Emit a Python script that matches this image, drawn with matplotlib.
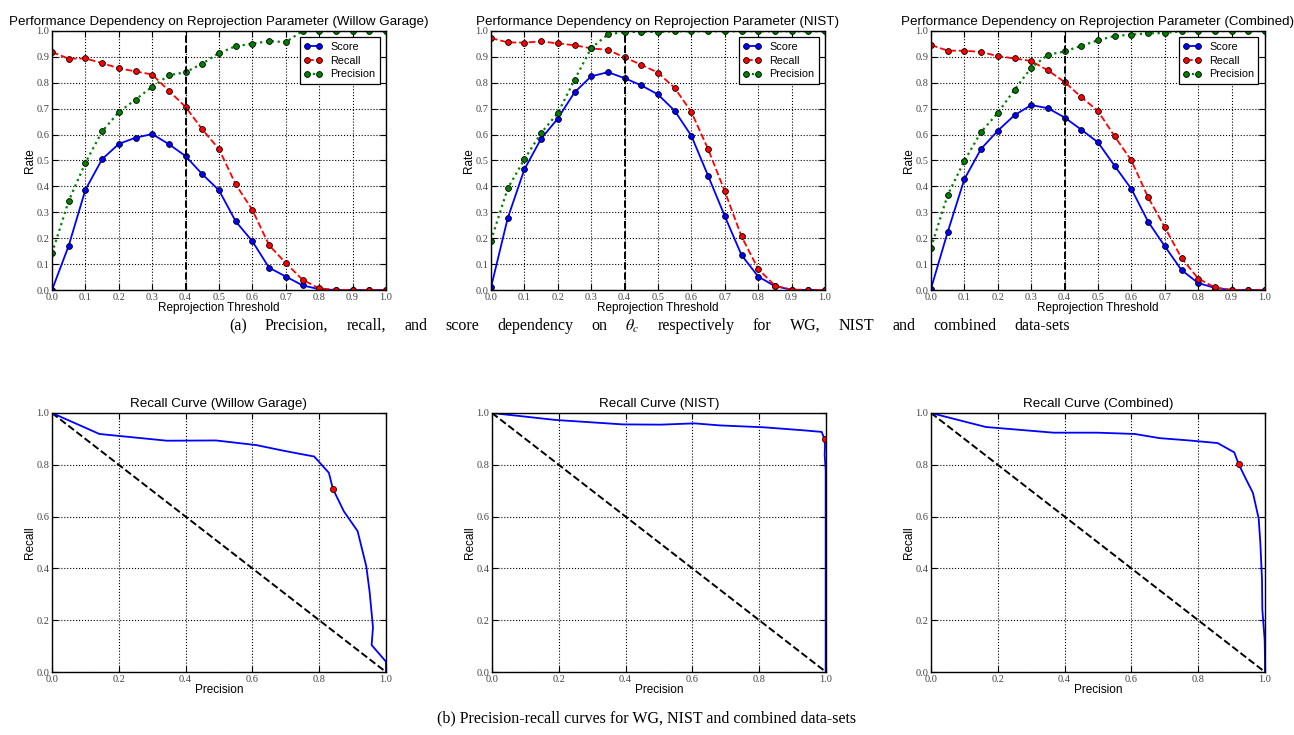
import matplotlib

matplotlib.use("Agg")
import matplotlib.pyplot as plt
import numpy as np

plt.rcParams["font.family"] = ["Liberation Sans", "DejaVu Sans"]
plt.rcParams["mathtext.fontset"] = "stix"

# Reprojection threshold samples
thresholds = [0.0, 0.05, 0.1, 0.15, 0.2, 0.25, 0.3, 0.35, 0.4, 0.45, 0.5,
              0.55, 0.6, 0.65, 0.7, 0.75, 0.8, 0.85, 0.9, 0.95, 1.0]

# Willow Garage
wg_score = [0.0, 0.171, 0.387, 0.505, 0.564, 0.588, 0.602, 0.563, 0.517, 0.447, 0.385,
            0.265, 0.188, 0.086, 0.052, 0.018, 0.003, 0.0, 0.0, 0.0, 0.0]
wg_recall = [0.919, 0.893, 0.894, 0.876, 0.856, 0.844, 0.832, 0.769, 0.707, 0.620, 0.544,
             0.408, 0.309, 0.173, 0.104, 0.040, 0.006, 0.001, 0.0, 0.0, 0.0]
wg_precision = [0.142, 0.344, 0.491, 0.612, 0.687, 0.735, 0.785, 0.829, 0.841, 0.874, 0.915,
                0.941, 0.951, 0.961, 0.957, 1.0, 1.0, 1.0, 1.0, 1.0, 1.0]

# NIST
nist_score = [0.01, 0.277, 0.466, 0.584, 0.662, 0.763, 0.825, 0.841, 0.818, 0.790, 0.755,
              0.692, 0.595, 0.441, 0.285, 0.135, 0.052, 0.015, 0.001, 0.0, 0.0]
nist_recall = [0.973, 0.956, 0.955, 0.960, 0.952, 0.945, 0.933, 0.927, 0.898, 0.870, 0.839,
               0.780, 0.687, 0.544, 0.381, 0.207, 0.081, 0.017, 0.001, 0.001, 0.0]
nist_precision = [0.191, 0.392, 0.505, 0.606, 0.683, 0.811, 0.934, 0.987, 0.996, 0.997, 0.996,
                  0.999, 0.999, 0.999, 0.999, 0.999, 0.999, 0.999, 0.999, 0.999, 0.999]

# Combined
comb_score = [0.005, 0.224, 0.428, 0.545, 0.615, 0.675, 0.714, 0.702, 0.666, 0.619, 0.570,
              0.479, 0.390, 0.264, 0.169, 0.077, 0.027, 0.008, 0.0, 0.0, 0.0]
comb_recall = [0.946, 0.924, 0.924, 0.919, 0.903, 0.894, 0.884, 0.848, 0.803, 0.745, 0.691,
               0.593, 0.500, 0.358, 0.242, 0.124, 0.044, 0.010, 0.0, 0.0, 0.0]
comb_precision = [0.164, 0.367, 0.499, 0.610, 0.684, 0.773, 0.858, 0.908, 0.921, 0.943, 0.964,
                  0.981, 0.986, 0.991, 0.992, 0.999, 1.0, 1.0, 1.0, 1.0, 1.0]

datasets = ["Willow Garage", "NIST", "Combined"]
chosen_threshold = 0.4

caption_a = (r"(a) Precision, recall, and score dependency on $\theta_c$ respectively "
             "for WG, NIST and combined data-sets")
caption_b = "(b) Precision-recall curves for WG, NIST and combined data-sets"

TICK_FONT = dict(family="Liberation Serif", size=7.5, color="#444444")
W, H = 1294.0, 735.0


def style_axes(ax, xticks, yticks):
    ax.set_xlim(0, 1)
    ax.set_ylim(0, 1)
    ax.set_xticks(xticks)
    ax.set_yticks(yticks)
    ax.set_xticklabels([f"{t:.1f}" for t in xticks], **TICK_FONT)
    ax.set_yticklabels([f"{t:.1f}" for t in yticks], **TICK_FONT)
    ax.tick_params(direction="in", top=True, right=True, length=4, width=0.8, pad=2)
    ax.grid(True, linestyle=":", color="black", linewidth=0.8)
    for spine in ax.spines.values():
        spine.set_linewidth(1.0)


def justified_text(fig, text, x0, x1, y, **kw):
    """Spread the words of a caption over [x0, x1] pixels, like a justified line."""
    words = text.split(" ")
    renderer = fig.canvas.get_renderer()
    objs = [fig.text(0, y / H, w, va="center", **kw) for w in words]
    widths = [o.get_window_extent(renderer).width for o in objs]
    gap = (x1 - x0 - sum(widths)) / (len(words) - 1)
    x = x0
    for o, w in zip(objs, widths):
        o.set_x(x / W)
        x += w + gap


fig = plt.figure(figsize=(12.94, 7.35), dpi=100)

top_lefts = [52, 491, 931]
bot_lefts = [52, 492, 931]

series = [
    (wg_score, wg_recall, wg_precision),
    (nist_score, nist_recall, nist_precision),
    (comb_score, comb_recall, comb_precision),
]

for i, name in enumerate(datasets):
    score, recall, precision = series[i]

    ax = fig.add_axes([top_lefts[i] / W, 1 - 290 / H, 334 / W, 259 / H])
    ax.plot(thresholds, score, "b-o", lw=1.3, ms=4.2, mec="black", mew=0.6, label="Score")
    ax.plot(thresholds, recall, "r--o", lw=1.3, ms=4.2, mec="black", mew=0.6, label="Recall")
    ax.plot(thresholds, precision, ":o", color="green", lw=1.6, ms=4.2, mec="black", mew=0.6,
            label="Precision")
    ax.axvline(chosen_threshold, color="black", linestyle="--", lw=1.4)
    style_axes(ax, np.arange(0, 1.01, 0.1), np.arange(0, 1.01, 0.1))
    ax.set_title(f"Performance Dependency on Reprojection Parameter ({name})", fontsize=9.6, pad=4)
    ax.set_xlabel("Reprojection Threshold", fontsize=8.5, labelpad=0)
    ax.set_ylabel("Rate", fontsize=8.5, labelpad=0)
    leg = ax.legend(loc="upper right", numpoints=2, fontsize=7.8, fancybox=False,
                    framealpha=1, borderaxespad=0.6, handlelength=1.7, handletextpad=0.7,
                    labelspacing=0.35, borderpad=0.4)
    leg.get_frame().set_edgecolor("black")
    leg.get_frame().set_linewidth(0.9)

    # Precision-recall curve, starting from (0, 1)
    pr_x = [0.0] + list(precision)
    pr_y = [1.0] + list(recall)
    k = thresholds.index(chosen_threshold)
    ax2 = fig.add_axes([bot_lefts[i] / W, 1 - 672 / H, 334 / W, 259 / H])
    ax2.plot([0, 1], [1, 0], "k--", lw=1.4)
    ax2.plot(pr_x, pr_y, "b-", lw=1.3)
    ax2.plot(precision[k], recall[k], "o", color="red", ms=4.5, mec="black", mew=0.5)
    style_axes(ax2, np.arange(0, 1.01, 0.2), np.arange(0, 1.01, 0.2))
    ax2.set_title(f"Recall Curve ({name})", fontsize=9.6, pad=4)
    ax2.set_xlabel("Precision", fontsize=8.5, labelpad=0)
    ax2.set_ylabel("Recall", fontsize=8.5, labelpad=0)

justified_text(fig, caption_a, 229, 1070, H - 326, family="Liberation Serif", fontsize=11.5)
fig.text(0.5, 1 - 718 / H, caption_b, ha="center", va="center",
         family="Liberation Serif", fontsize=11.5)

fig.savefig("out.png", dpi=100)
